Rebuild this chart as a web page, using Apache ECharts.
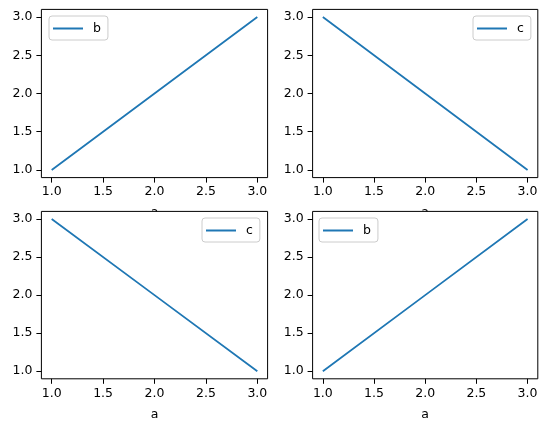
<!DOCTYPE html>
<html><head><meta charset="utf-8">
<script src="https://cdn.jsdelivr.net/npm/echarts@6/dist/echarts.min.js"></script>
<style>html,body{margin:0;padding:0;background:#fff}#c{width:548px;height:432px}</style>
</head><body><div id="c"></div>
<script>
const a = [1, 2, 3];
const b = [1, 2, 3];
const c = [3, 2, 1];
const xTicks = [1.0, 1.5, 2.0, 2.5, 3.0];
const yTicks = [1.0, 1.5, 2.0, 2.5, 3.0];
const panels = [
  {name: 'b', y: b, grid: {left: 41.4, top: 9.4, width: 226.2, height: 168.2}, legend: {left: 49, top: 16}, z: 0},
  {name: 'c', y: c, grid: {left: 312.6, top: 9.4, width: 225.2, height: 168.2}, legend: {left: 473, top: 16}, z: 0},
  {name: 'c', y: c, grid: {left: 41.4, top: 211.4, width: 226.2, height: 167.4}, legend: {left: 202, top: 218}, z: 5},
  {name: 'b', y: b, grid: {left: 312.6, top: 211.4, width: 225.2, height: 167.4}, legend: {left: 319, top: 218}, z: 5}
];
const font = 'DejaVu Sans';
const fs = 12.5;
const fmt = v => Number(v).toFixed(1);
const option = {
  animation: false,
  backgroundColor: '#fff',
  grid: panels.map(p => Object.assign({show: true, backgroundColor: '#fff', borderColor: '#000', borderWidth: 1, z: p.z, containLabel: false}, p.grid)),
  xAxis: panels.map((p, i) => ({
    type: 'value', gridIndex: i, min: 0.9, max: 3.1, z: p.z + 1,
    name: 'a', nameLocation: 'middle', nameGap: 29,
    nameTextStyle: {fontFamily: font, fontSize: fs, color: '#000'},
    axisLine: {show: false},
    splitLine: {show: false},
    axisTick: {show: true, length: 5, lineStyle: {color: '#000', width: 1}, customValues: xTicks},
    axisLabel: {fontFamily: font, fontSize: fs, color: '#000', margin: 8, customValues: xTicks, formatter: fmt}
  })),
  yAxis: panels.map((p, i) => ({
    type: 'value', gridIndex: i, min: 0.9, max: 3.1, z: p.z + 1,
    axisLine: {show: false},
    splitLine: {show: false},
    axisTick: {show: true, length: 5, lineStyle: {color: '#000', width: 1}, customValues: yTicks},
    axisLabel: {fontFamily: font, fontSize: fs, color: '#000', margin: 9, customValues: yTicks, formatter: fmt}
  })),
  legend: panels.map((p, i) => ({
    data: [p.name], left: p.legend.left, top: p.legend.top, orient: 'vertical', z: p.z + 3,
    icon: 'rect', itemWidth: 30, itemHeight: 2,
    padding: [6, 7, 5, 4],
    backgroundColor: 'rgba(255,255,255,0.8)', borderColor: '#cccccc', borderWidth: 1, borderRadius: 3,
    textStyle: {fontFamily: font, fontSize: fs, color: '#000', padding: [0, 0, 0, 5]},
    selectedMode: false
  })),
  series: panels.map((p, i) => ({
    type: 'line', name: p.name, xAxisIndex: i, yAxisIndex: i, z: p.z + 2,
    data: a.map((x, k) => [x, p.y[k]]),
    symbol: 'none', lineStyle: {color: '#1f77b4', width: 1.8}, itemStyle: {color: '#1f77b4'}
  }))
};
echarts.init(document.getElementById('c')).setOption(option);
</script></body></html>
